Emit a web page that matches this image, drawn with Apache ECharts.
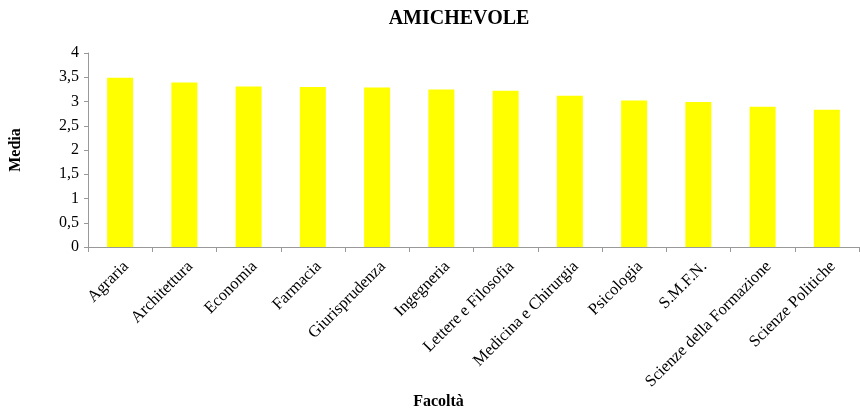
<!DOCTYPE html>
<html>
<head>
<meta charset="utf-8">
<script src="https://cdn.jsdelivr.net/npm/echarts@6/dist/echarts.min.js"></script>
<style>
html,body{margin:0;padding:0;background:#fff;}
#main{width:860px;height:408px;}
</style>
</head>
<body>
<div id="main"></div>
<script>
// dati
var facolta = ['Agraria','Architettura','Economia','Farmacia','Giurisprudenza','Ingegneria',
	'Lettere e Filosofia','Medicina e Chirurgia','Psicologia','S.M.F.N.','Scienze della Formazione','Scienze Politiche'];
var media = [3.49, 3.39, 3.31, 3.30, 3.29, 3.25, 3.22, 3.12, 3.02, 2.99, 2.89, 2.83];

var serif = 'Liberation Serif';
var myChart = echarts.init(document.getElementById('main'));

var option = {
	animation: false,
	title: {
		text: 'AMICHEVOLE',
		left: 454,
		top: 4,
		textAlign: 'center',
		textStyle: {fontFamily: serif, fontWeight: 'bold', fontSize: 20, color: '#000'}
	},
	grid: {left: 88, right: 1, top: 53, bottom: 161, containLabel: false, outerBoundsMode: 'none'},
	xAxis: {
		type: 'category',
		data: facolta,
		name: 'Facoltà',
		nameLocation: 'middle',
		nameGap: 144,
		nameTextStyle: {fontFamily: serif, fontWeight: 'bold', fontSize: 16, color: '#000', padding: [0, 70, 0, 0]},
		axisLine: {lineStyle: {color: '#999'}},
		axisTick: {show: true, lineStyle: {color: '#999'}, length: 5},
		axisLabel: {rotate: 45, fontFamily: serif, fontSize: 16.5, color: '#000', margin: 11, interval: 0, verticalAlign: 'top'}
	},
	yAxis: {
		type: 'value',
		min: 0,
		max: 4,
		interval: 0.5,
		name: 'Media',
		nameLocation: 'middle',
		nameRotate: 90,
		nameGap: 64,
		nameTextStyle: {fontFamily: serif, fontWeight: 'bold', fontSize: 16, color: '#000'},
		splitLine: {show: false},
		axisLine: {show: true, lineStyle: {color: '#999'}},
		axisTick: {show: true, lineStyle: {color: '#999'}, length: 4},
		axisLabel: {
			fontFamily: serif, fontSize: 16, color: '#000', margin: 9,
			formatter: function (v) { return String(v).replace('.', ','); }
		}
	},
	series: [{
		type: 'bar',
		data: media,
		barWidth: 26,
		itemStyle: {color: '#ffff00'}
	}]
};
myChart.setOption(option);
</script>
</body>
</html>
